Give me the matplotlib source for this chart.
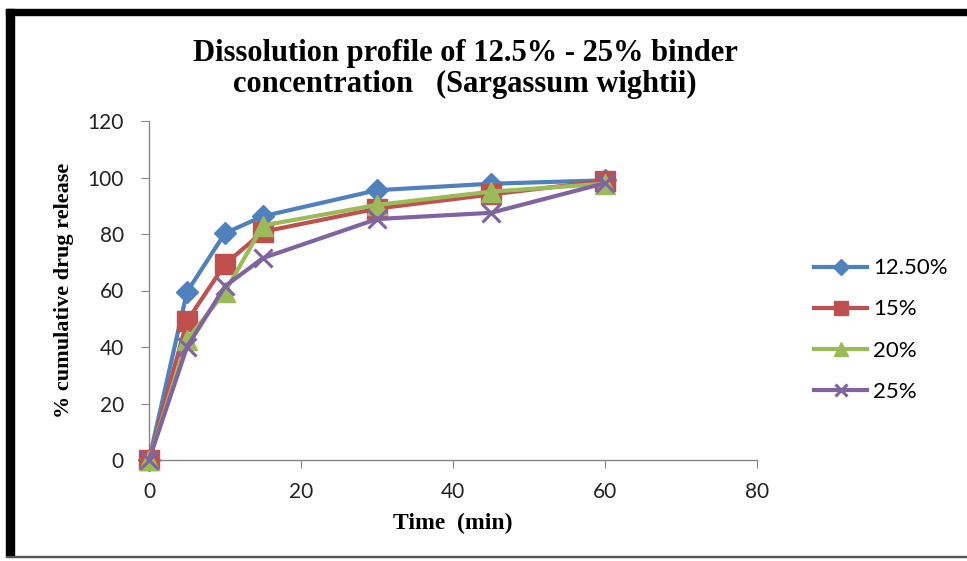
import matplotlib
matplotlib.use("Agg")
import matplotlib.pyplot as plt
from matplotlib.patches import Rectangle

time_min = [0, 5, 10, 15, 30, 45, 60]
series_names = ["12.50%", "15%", "20%", "25%"]
conc_12_5 = [0, 59.5, 80.3, 86.3, 95.5, 97.8, 99.0]
conc_15 = [0, 49.2, 69.3, 80.8, 89.0, 94.0, 98.8]
conc_20 = [0, 42.5, 59.5, 83.0, 90.3, 95.0, 97.8]
conc_25 = [0, 40.0, 61.5, 71.5, 85.3, 87.5, 98.0]
x_ticks = [0, 20, 40, 60, 80]
y_ticks = [0, 20, 40, 60, 80, 100, 120]

W, H = 967, 561
fig = plt.figure(figsize=(W / 100, H / 100), dpi=100)
ax = fig.add_axes([149 / W, (H - 460) / H, (757 - 149) / W, (460 - 121) / H])

styles = [
    dict(color="#4F81BD", marker="D", ms=11),
    dict(color="#C0504D", marker="s", ms=14),
    dict(color="#9BBB59", marker="^", ms=14),
    dict(color="#8064A2", marker="x", ms=13, mew=2.2),
]
for name, vals, st in zip(series_names, [conc_12_5, conc_15, conc_20, conc_25], styles):
    ax.plot(time_min, vals, lw=3, label=name, clip_on=False, zorder=3, **st)

ax.set_xlim(0, 80)
ax.set_ylim(0, 120)
ax.set_xticks(x_ticks)
ax.set_yticks(y_ticks)
for s in ["top", "right"]:
    ax.spines[s].set_visible(False)
for s in ["left", "bottom"]:
    ax.spines[s].set_color("#868686")
    ax.spines[s].set_linewidth(1)
ax.tick_params(axis="both", direction="out", length=6, color="#868686",
               labelsize=15, labelcolor="#222222")
ax.tick_params(axis="x", pad=10)
ax.tick_params(axis="y", pad=12)
for lab in ax.get_xticklabels() + ax.get_yticklabels():
    lab.set_fontfamily("Lato")

ax.set_xlabel("Time  (min)", fontfamily="Liberation Serif", fontweight="bold",
              fontsize=17, labelpad=8)
ax.set_ylabel("% cumulative drug release", fontfamily="Liberation Serif",
              fontweight="bold", fontsize=16, labelpad=10)

fig.text(465 / W, 1 - 69 / H, "Dissolution profile of 12.5% - 25% binder\nconcentration   (Sargassum wightii)",
         ha="center", va="center", fontfamily="Liberation Serif", fontweight="bold",
         fontsize=22, linespacing=1.05)

leg = fig.legend(loc="center left", bbox_to_anchor=(794 / W, 1 - 330 / H), frameon=False,
                 prop={"family": "Lato", "size": 16}, labelspacing=0.95,
                 handlelength=2.4, handletextpad=0.25, markerscale=0.7)

# outer border
fig.patches.append(Rectangle((6 / W, 1 - 15 / H), 1 - 6 / W, 6 / H, transform=fig.transFigure,
                             color="black", zorder=10))
fig.patches.append(Rectangle((6 / W, 1 - 556 / H), 8 / W, (556 - 9) / H, transform=fig.transFigure,
                             color="black", zorder=10))
fig.patches.append(Rectangle((6 / W, 1 - 557 / H), 1 - 6 / W, 1.5 / H, transform=fig.transFigure,
                             color="#555555", zorder=10))

fig.savefig("out.png", dpi=100)
